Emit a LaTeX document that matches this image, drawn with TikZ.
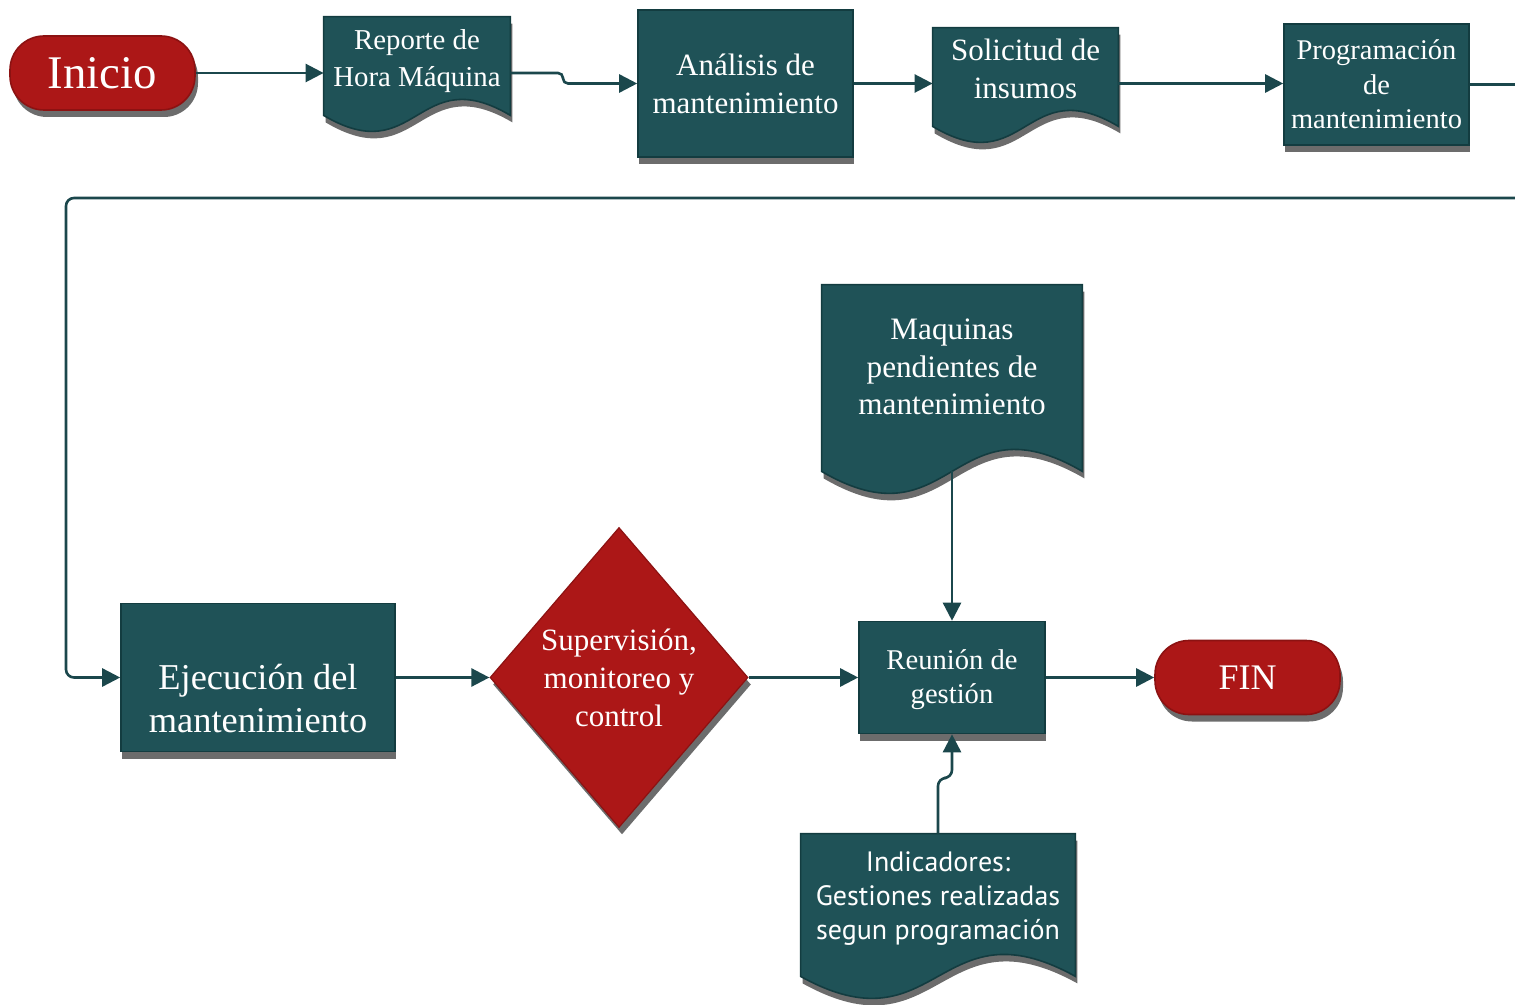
\documentclass[tikz,border=0pt]{standalone}
\usepackage{fontspec}
\setmainfont{Liberation Serif}
\newfontfamily\indfont{PT Sans}
\usepackage{tikz}
\usetikzlibrary{positioning,shapes.geometric,shadows,arrows.meta}

\definecolor{procteal}{HTML}{1F5257}
\definecolor{procedge}{HTML}{133C40}
\definecolor{termred}{HTML}{AC1717}
\definecolor{termedge}{HTML}{8C1212}
\definecolor{shadegray}{HTML}{6C6C6C}
\definecolor{flowteal}{HTML}{1B474C}

\pgfdeclarelayer{background}
\pgfsetlayers{background,main}

\tikzset{
  shadebelow/.style={drop shadow={shadow xshift=0.5pt, shadow yshift=-3.5pt, opacity=1, fill=shadegray}},
  procbox/.style={rectangle, fill=procteal, draw=procedge, line width=0.8pt, text=white, align=center, inner sep=0pt, shadebelow},
  termbox/.style={rectangle, rounded corners=17pt, fill=termred, draw=termedge, line width=0.8pt, text=white, align=center, inner sep=0pt, minimum width=92.5pt, minimum height=37pt, drop shadow={shadow xshift=1.5pt, shadow yshift=-3.5pt, opacity=1, fill=shadegray}},
  decbox/.style={diamond, aspect=0.86, fill=termred, draw=termedge, line width=0.6pt, text=white, align=center, inner sep=0pt, minimum width=129pt, minimum height=150pt, drop shadow={shadow xshift=1.5pt, shadow yshift=-3.5pt, opacity=1, fill=shadegray}},
  docbox/.style={rectangle, text=white, align=center, inner sep=0pt},
  boxtext/.style={text=white, align=center, inner sep=0pt},
  flow/.style={draw=flowteal, line width=1.3pt, -{Triangle[length=9pt,width=9pt]}}
}

\newcommand{\docshape}[3]{%
  \begin{pgfonlayer}{background}
    \fill[shadegray, transform canvas={shift={(1pt,-3.5pt)}}] (#1.north west) -- (#1.north east) -- ([yshift=-#2pt]#1.south east)
      .. controls ([yshift={3.46*#3pt-#2pt}]#1.south) and ([yshift={-3.46*#3pt-#2pt}]#1.south) .. ([yshift=-#2pt]#1.south west) -- cycle;
    \filldraw[fill=procteal, draw=procedge, line width=0.8pt] (#1.north west) -- (#1.north east) -- ([yshift=-#2pt]#1.south east)
      .. controls ([yshift={3.46*#3pt-#2pt}]#1.south) and ([yshift={-3.46*#3pt-#2pt}]#1.south) .. ([yshift=-#2pt]#1.south west) -- cycle;
  \end{pgfonlayer}}

\begin{document}
\begin{tikzpicture}[x=0.5pt, y=-0.5pt]
  \useasboundingbox (0,0) rectangle (1515,1005);

  \node[termbox, font=\fontsize{23.4}{26}\selectfont] (ini) at (102.5,73) {Inicio};
  \node[docbox, minimum width=93pt, minimum height=44pt, font=\fontsize{14.4}{18.5}\selectfont] (rep) at (417,61) {Reporte de\\Hora Máquina};
  \node[procbox, minimum width=107.5pt, minimum height=73.5pt, font=\fontsize{15.5}{19}\selectfont] (ana) at (745.5,83.5) {Análisis de\\mantenimiento};
  \node[docbox, minimum width=92.5pt, minimum height=41pt, font=\fontsize{15.5}{19}\selectfont] (sol) at (1025.5,69) {Solicitud de\\insumos};
  \node[procbox, minimum width=92.5pt, minimum height=60.5pt, font=\fontsize{14.25}{17.25}\selectfont] (prog) at (1376.5,84.5) {Programación\\de\\mantenimiento};

  \node[procbox, minimum width=137pt, minimum height=74pt] (ejec) at (258,677.5) {};
  \node[boxtext, font=\fontsize{18.2}{21.5}\selectfont] (ejectxt) at (258,698.5) {Ejecución del\\mantenimiento};
  \node[decbox, font=\fontsize{15.5}{19}\selectfont] (sup) at (619,677.5) {Supervisión,\\monitoreo y\\control};
  \node[procbox, minimum width=93pt, minimum height=56pt] (reu) at (952,677.5) {};
  \node[boxtext, font=\fontsize{14.3}{17}\selectfont] (reutxt) at (952,680) {Reunión de\\gestión};
  \node[termbox, font=\fontsize{18}{21}\selectfont] (fin) at (1247.5,677.5) {FIN};
  \node[docbox, minimum width=130pt, minimum height=82pt, font=\fontsize{15.6}{18.75}\selectfont] (maq) at (952,367) {Maquinas\\pendientes de\\mantenimiento};
  \node[docbox, minimum width=137pt, minimum height=65pt, font=\indfont\fontsize{14}{17}\selectfont] (ind) at (938,899) {Indicadores:\\Gestiones realizadas\\segun programación};

  \docshape{rep}{5}{8}
  \docshape{sol}{8}{8}
  \docshape{maq}{11}{11}
  \docshape{ind}{6}{11}

  \coordinate (loopR) at (1540,198);
  \coordinate (loopL) at (66,198);
  \coordinate (indbend) at (952,778);

  \draw[flow] (ini.east) -- (ini.east -| rep.west);
  \draw[flow, rounded corners=2.5pt] (ini.east -| rep.east) -- (563,73) |- (ana.west);
  \draw[flow] (ana.east) -- (ana.east -| sol.west);
  \draw[flow] (ana.east -| sol.east) -- (ana.east -| prog.west);
  \draw[flow, rounded corners=4pt] (prog.east) -| (loopR) -- (loopL) |- (ejec.west);
  \draw[flow] (ejec) -- (sup);
  \draw[flow] (sup) -- (reu);
  \draw[flow] (reu) -- (fin);
  \draw[flow] ([yshift=-11pt]maq.south) -- (reu.north);
  \draw[flow, rounded corners=4pt] (ind.north) |- (indbend) -- (reu.south);
\end{tikzpicture}
\end{document}
